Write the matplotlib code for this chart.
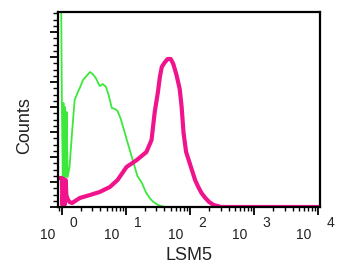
import numpy as np
import matplotlib
matplotlib.use("Agg")
import matplotlib.pyplot as plt
from matplotlib.ticker import MultipleLocator, LogLocator, NullFormatter

plt.rcParams['font.family'] = ['Liberation Sans', 'DejaVu Sans']

# isotype control (green), positions in decades of LSM5 fluorescence
green_dec = [-0.03, -0.01, 0.0, 0.015, 0.025, 0.04, 0.05, 0.065, 0.075, 0.09,
             0.12, 0.16, 0.2, 0.25, 0.28, 0.33, 0.37, 0.44, 0.48, 0.53, 0.59,
             0.64, 0.69, 0.73, 0.78, 0.83, 0.87, 0.92, 0.97, 1.01, 1.07, 1.12,
             1.18, 1.25, 1.31, 1.37, 1.43, 1.5, 1.6, 1.9, 2.3]
green_counts = [200, 200, 107, 30, 104, 30, 100, 30, 95, 30,
                40, 75, 107, 115, 119, 127, 130, 135, 133, 129, 121,
                123, 120, 112, 99, 98, 96, 88, 77, 68, 55, 44,
                31, 24, 15, 9, 5, 2, 0, 0, 0]

# LSM5 stained (magenta)
pink_dec = [-0.06, 0.0, 0.01, 0.03, 0.04, 0.06, 0.07, 0.09, 0.12, 0.16,
            0.28, 0.44, 0.59, 0.75, 0.87,
            1.01, 1.17, 1.32, 1.4, 1.45, 1.5, 1.53, 1.56, 1.6, 1.65, 1.7,
            1.74, 1.79, 1.84, 1.87, 1.9, 1.94, 1.99, 2.04, 2.08, 2.13, 2.18,
            2.24, 2.3, 2.37, 2.49, 3.0, 3.5, 4.05]
pink_counts = [29, 29, 2, 28, 2, 27, 12, 8, 5, 4,
               9, 12, 15, 20, 27,
               40, 47, 55, 67, 95, 115, 130, 140, 144, 148, 148,
               143, 132, 118, 100, 74, 55, 45, 35, 27, 20, 14,
               9, 5, 2, 0, 0, 0, 0]

decades = [0, 1, 2, 3, 4]

green_x = 10.0 ** np.array(green_dec)
pink_x = 10.0 ** np.array(pink_dec)

fig = plt.figure(figsize=(3.43, 2.72), dpi=100)
ax = fig.add_axes([58 / 343, 1 - 207 / 272, (320 - 58) / 343, (207 - 12) / 272])

ax.plot(green_x, green_counts, color='#3be83b', lw=1.3)
ax.plot(pink_x, pink_counts, color='#f0148c', lw=3.0)

ax.set_xscale('log')
ax.set_xlim(10 ** -0.06, 10 ** 4.03)
ax.set_ylim(0, 195)

for s in ax.spines.values():
    s.set_linewidth(1.6)

ax.xaxis.set_major_locator(LogLocator(base=10, numticks=10))
ax.xaxis.set_minor_locator(LogLocator(base=10, subs=np.arange(2, 10), numticks=20))
ax.xaxis.set_major_formatter(NullFormatter())
ax.xaxis.set_minor_formatter(NullFormatter())
ax.tick_params(axis='x', which='major', length=6, width=1.3, direction='out')
ax.tick_params(axis='x', which='minor', length=3, width=1.0, direction='out')

ax.yaxis.set_major_locator(MultipleLocator(25))
ax.yaxis.set_minor_locator(MultipleLocator(6.25))
ax.yaxis.set_major_formatter(NullFormatter())
ax.tick_params(axis='y', which='major', length=6, width=1.3, direction='out')
ax.tick_params(axis='y', which='minor', length=3.5, width=1.0, direction='out')

# "10" with its exponent set off to the right, like the cytometer export
for d in decades:
    ax.annotate('10', xy=(10 ** d, 0), xycoords=('data', 'axes fraction'),
                xytext=(-14, -28), textcoords='offset pixels',
                ha='center', va='center', fontsize=10, color='#222222')
    ax.annotate(str(d), xy=(10 ** d, 0), xycoords=('data', 'axes fraction'),
                xytext=(12, -16), textcoords='offset pixels',
                ha='center', va='center', fontsize=10, color='#222222')

fig.text(189 / 343, 1 - 255 / 272, 'LSM5', ha='center', va='center',
         fontsize=13, color='#222222')
fig.text(25 / 343, 1 - 126 / 272, 'Counts', ha='center', va='center',
         rotation=90, fontsize=13, color='#222222')

fig.savefig('out.png', dpi=100)
